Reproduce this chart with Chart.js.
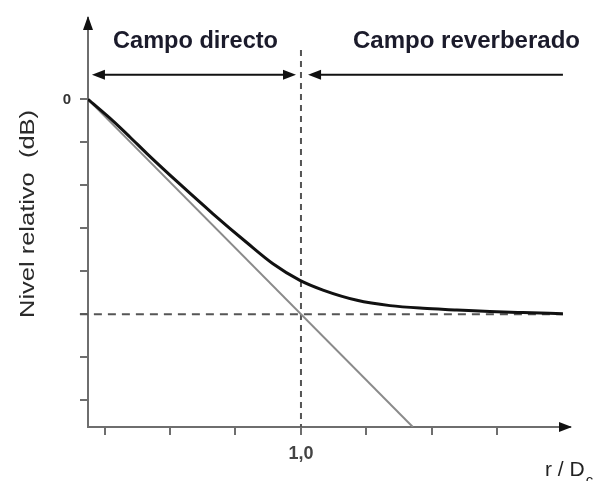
<!DOCTYPE html>
<html>
<head>
<meta charset="utf-8">
<script src="https://cdn.jsdelivr.net/npm/chart.js@4.4.1/dist/chart.umd.min.js"></script>
<style>
  html, body { margin: 0; padding: 0; background: #fff; }
  #wrap { width: 604px; height: 481px; }
</style>
</head>
<body>
<div id="wrap"><canvas id="chart"></canvas></div>
<script>
// r / Dc and relative level (dB)
const totalX = [0.187, 0.282, 0.347, 0.412, 0.538, 0.664, 0.794, 0.893, 0.996, 1.084, 1.214, 1.34, 1.466, 1.595, 1.721, 1.847, 2.0];
const totalY = [0, -2.0, -3.5, -5.05, -7.9, -10.65, -13.35, -15.3, -16.85, -17.75, -18.7, -19.2, -19.45, -19.6, -19.75, -19.85, -19.95];
const directX = [0.187, 1.427];
const directY = [0, -30.5];
const reverbLevel = -20;
const criticalDist = 1.0;
const xTicks = [0.25, 0.5, 0.75, 1.0, 1.25, 1.5, 1.75];
const yTicks = [0, -4, -8, -12, -16, -20, -24, -28];
const directoArrow = [0.202, 0.981];
const reverbArrow = [1.027, 2.0];
const arrowLevel = 2.3;

const axisColor = '#6e6e6e';

function pts(xs, ys) {
  return xs.map((x, i) => ({ x: x, y: ys[i] }));
}

function arrowHead(ctx, x, y, dir) {
  // dir: 'left' | 'right' | 'up'
  ctx.beginPath();
  if (dir === 'left') {
    ctx.moveTo(x, y); ctx.lineTo(x + 13, y - 5); ctx.lineTo(x + 13, y + 5);
  } else if (dir === 'right') {
    ctx.moveTo(x, y); ctx.lineTo(x - 13, y - 5); ctx.lineTo(x - 13, y + 5);
  } else {
    ctx.moveTo(x, y); ctx.lineTo(x - 5, y + 14); ctx.lineTo(x + 5, y + 14);
  }
  ctx.closePath();
  ctx.fill();
}

function fitText(ctx, text, x, y, width, rotate) {
  const w = ctx.measureText(text).width;
  ctx.save();
  ctx.translate(x, y);
  if (rotate) ctx.rotate(-Math.PI / 2);
  ctx.scale(width / w, 1);
  ctx.fillText(text, 0, 0);
  ctx.restore();
}

const extras = {
  id: 'extras',
  afterDraw(chart) {
    const ctx = chart.ctx;
    const xs = chart.scales.x, ys = chart.scales.y;
    const area = chart.chartArea;
    ctx.save();

    // axis arrows
    ctx.fillStyle = '#111';
    arrowHead(ctx, area.left, area.top - 2, 'up');
    arrowHead(ctx, area.right + 2, area.bottom, 'right');

    // region arrows
    const ay = ys.getPixelForValue(arrowLevel);
    ctx.strokeStyle = '#111';
    ctx.lineWidth = 2;
    let x0 = xs.getPixelForValue(directoArrow[0]), x1 = xs.getPixelForValue(directoArrow[1]);
    ctx.beginPath(); ctx.moveTo(x0 + 6, ay); ctx.lineTo(x1 - 6, ay); ctx.stroke();
    arrowHead(ctx, x0, ay, 'left');
    arrowHead(ctx, x1, ay, 'right');
    x0 = xs.getPixelForValue(reverbArrow[0]); x1 = xs.getPixelForValue(reverbArrow[1]);
    ctx.beginPath(); ctx.moveTo(x0 + 6, ay); ctx.lineTo(x1, ay); ctx.stroke();
    arrowHead(ctx, x0, ay, 'left');

    // region titles
    ctx.fillStyle = '#1b1b2b';
    ctx.font = 'bold 23px "Liberation Sans", Arial, sans-serif';
    ctx.textAlign = 'left';
    ctx.textBaseline = 'alphabetic';
    fitText(ctx, 'Campo directo', 113, 48, 165, false);
    fitText(ctx, 'Campo reverberado', 353, 48, 227, false);

    // y axis title
    ctx.fillStyle = '#2a2a2a';
    ctx.font = '21px "Liberation Sans", Arial, sans-serif';
    fitText(ctx, 'Nivel relativo  (dB)', 34, 318, 208, true);

    // x axis title
    ctx.fillStyle = '#222';
    ctx.font = '21px "Liberation Sans", Arial, sans-serif';
    ctx.fillText('r / D', 545, 476);
    const w = ctx.measureText('r / D').width;
    ctx.font = '15px "Liberation Sans", Arial, sans-serif';
    ctx.fillText('c', 545 + w + 1, 485);

    ctx.restore();
  }
};

new Chart(document.getElementById('chart'), {
  type: 'line',
  data: {
    datasets: [
      {
        data: pts(totalX, totalY),
        borderColor: '#111',
        borderWidth: 3,
        pointRadius: 0,
        cubicInterpolationMode: 'monotone'
      },
      {
        data: pts(directX, directY),
        borderColor: '#8a8a8a',
        borderWidth: 2,
        pointRadius: 0
      },
      {
        data: [{ x: 0.156, y: reverbLevel }, { x: 2.0, y: reverbLevel }],
        borderColor: '#555',
        borderWidth: 2,
        borderDash: [8, 6],
        pointRadius: 0,
        clip: false
      },
      {
        data: [{ x: criticalDist, y: 4.6 }, { x: criticalDist, y: -30.5 }],
        borderColor: '#555',
        borderWidth: 2,
        borderDash: [6, 5],
        pointRadius: 0,
        clip: false
      }
    ]
  },
  options: {
    responsive: true,
    maintainAspectRatio: false,
    animation: false,
    layout: { padding: { left: 0, right: 34, top: 15, bottom: 0 } },
    plugins: {
      legend: { display: false },
      tooltip: { enabled: false }
    },
    scales: {
      x: {
        type: 'linear',
        min: 0.187,
        max: 2.027,
        afterFit: s => { s.height = 54; },
        afterBuildTicks: s => { s.ticks = xTicks.map(v => ({ value: v })); },
        grid: { drawOnChartArea: false, drawTicks: true, tickLength: 8, color: axisColor, lineWidth: 2 },
        border: { display: true, color: axisColor, width: 2 },
        ticks: {
          autoSkip: false,
          maxRotation: 0,
          padding: 8,
          color: '#444',
          font: { family: '"Liberation Sans", Arial, sans-serif', size: 18, weight: 'bold' },
          callback: v => (Math.abs(v - 1) < 1e-6 ? '1,0' : '')
        }
      },
      y: {
        type: 'linear',
        min: -30.5,
        max: 7.575,
        afterFit: s => { s.width = 88; },
        afterBuildTicks: s => { s.ticks = yTicks.map(v => ({ value: v })); },
        grid: { drawOnChartArea: false, drawTicks: true, tickLength: 8, color: axisColor, lineWidth: 2 },
        border: { display: true, color: axisColor, width: 2 },
        ticks: {
          autoSkip: false,
          padding: 9,
          color: '#333',
          font: { family: '"Liberation Sans", Arial, sans-serif', size: 15, weight: 'bold' },
          callback: v => (v === 0 ? '0' : '')
        }
      }
    }
  },
  plugins: [extras]
});
</script>
</body>
</html>
